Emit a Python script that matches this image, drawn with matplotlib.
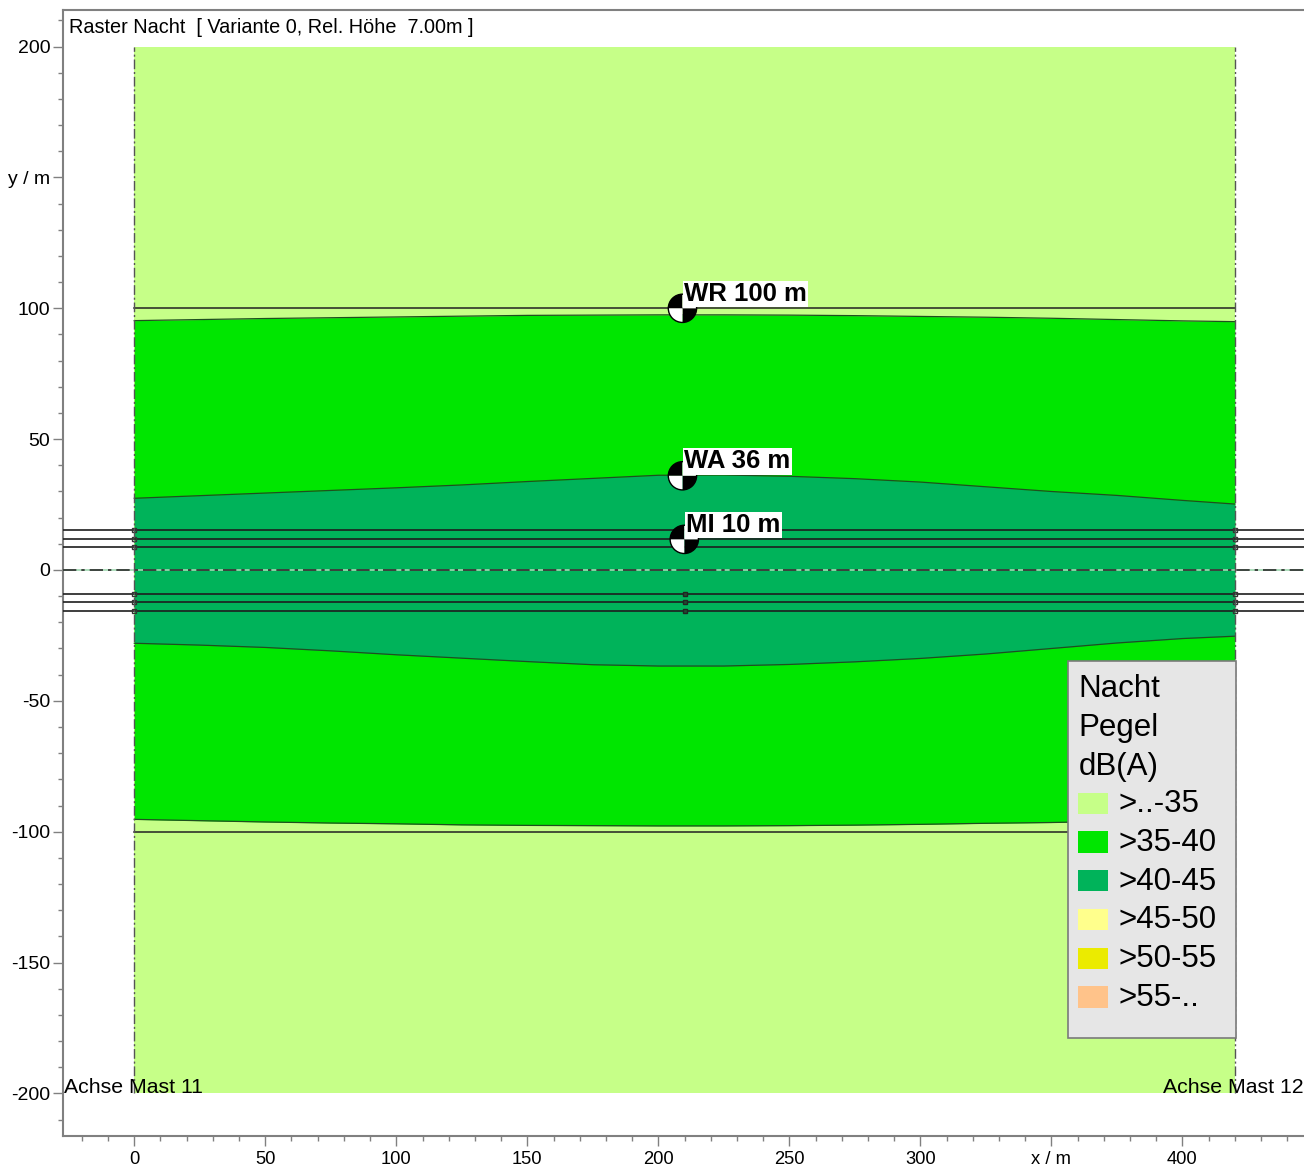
import matplotlib
matplotlib.use("Agg")
import matplotlib.pyplot as plt
from matplotlib.patches import Wedge, Circle, Rectangle

plt.rcParams['font.family'] = ['Liberation Sans', 'DejaVu Sans']

# ---------------- data ----------------
x_pts = [0, 25, 50, 75, 100, 125, 150, 175, 200, 225, 250, 275, 300, 325, 350, 375, 400, 420]
# upper / lower boundary of the >35-40 zone
b35_top = [95.3, 95.7, 96.1, 96.4, 96.7, 97.0, 97.3, 97.4, 97.5, 97.5, 97.4, 97.2, 96.9, 96.6, 96.2, 95.7, 95.2, 94.9]
b35_bot = [-95.3, -95.8, -96.3, -96.7, -97.0, -97.4, -97.6, -97.7, -97.8, -97.8, -97.7, -97.5, -97.2, -96.8, -96.5, -96.0, -95.5, -95.0]
# upper / lower boundary of the >40-45 zone
b40_top = [27.4, 28.4, 29.4, 30.4, 31.4, 32.5, 33.8, 35.0, 36.2, 36.3, 35.8, 34.9, 33.6, 31.8, 30.0, 28.5, 26.6, 25.2]
b40_bot = [-28.0, -28.7, -29.6, -30.9, -32.4, -33.7, -35.0, -36.2, -36.7, -36.7, -36.1, -35.1, -33.8, -32.1, -30.0, -27.9, -26.2, -25.3]

grid_x = [0, 420]
grid_y = [-200, 200]
limit_lines_y = [100, -100]
conductor_y = [15.3, 11.7, 8.6, -9.3, -12.2, -15.7]
mid_x = 210

rec_names = ['WR 100 m', 'WA 36 m', 'MI 10 m']
rec_x = [209.2, 209.2, 209.9]
rec_y = [100.0, 36.0, 11.7]

legend_labels = ['>..-35', '>35-40', '>40-45', '>45-50', '>50-55', '>55-..']
legend_colors = ['#C6FF88', '#00E600', '#00B35A', '#FFFF8C', '#EBEB00', '#FFC38A']
legend_title = ['Nacht', 'Pegel', 'dB(A)']

x_major = [0, 50, 100, 150, 200, 250, 300, 350, 400]
x_labels = ['0', '50', '100', '150', '200', '250', '300', 'x / m', '400']
y_major = [-200, -150, -100, -50, 0, 50, 100, 150, 200]
y_labels = ['-200', '-150', '-100', '-50', '0', '50', '100', 'y / m', '200']

title = 'Raster Nacht  [ Variante 0, Rel. H\u00f6he  7.00m ]'

# ---------------- figure ----------------
W, H = 1304, 1167
fig = plt.figure(figsize=(W / 100, H / 100), dpi=100)
ax = fig.add_axes([63 / W, 1 - 1136 / H, (W - 63) / W, (1136 - 10) / H])
ax.set_xlim(-27.2, 446.4)
ax.set_ylim(-216.3, 214.0)

# background zone
ax.fill_between(grid_x, grid_y[0], grid_y[1], color=legend_colors[0], lw=0, zorder=1)
ax.fill_between(x_pts, b35_bot, b35_top, color=legend_colors[1], lw=0, zorder=2)
ax.fill_between(x_pts, b40_bot, b40_top, color=legend_colors[2], lw=0, zorder=3)
for b in (b35_top, b35_bot, b40_top, b40_bot):
    ax.plot(x_pts, b, color='#1f4f1f', lw=0.9, zorder=4)

# limit lines
for yv in limit_lines_y:
    ax.plot(grid_x, [yv, yv], color='#222222', lw=1.1, zorder=5)

# conductors
xl = ax.get_xlim()
for yv in conductor_y:
    ax.plot(xl, [yv, yv], color='#1e1e1e', lw=1.2, zorder=5)
    ax.plot(grid_x, [yv, yv], ls='none', marker='s', ms=3.5, mfc='none', mec='#333333', mew=1, zorder=5)
for yv in conductor_y[3:]:
    ax.plot([mid_x], [yv], ls='none', marker='s', ms=3.5, mfc='#1e4e30', mec='#222222', mew=1, zorder=5)
# axis centre line
ax.plot(xl, [0, 0], color='#9fd8b0', lw=1.2, zorder=5)
ax.plot(xl, [0, 0], color='#2a2a2a', lw=1.2, ls=(0, (8, 3, 2, 3)), zorder=5)
# mast axes
for xv in grid_x:
    ax.plot([xv, xv], grid_y, color='#555555', lw=1, ls=(0, (7, 2, 1.5, 2)), zorder=5)

# receivers
r = 5.4
for name, rx, ry in zip(rec_names, rec_x, rec_y):
    ax.add_patch(Wedge((rx, ry), r, 90, 180, fc='black', ec='none', zorder=7))
    ax.add_patch(Wedge((rx, ry), r, 270, 360, fc='black', ec='none', zorder=7))
    ax.add_patch(Wedge((rx, ry), r, 0, 90, fc='white', ec='none', zorder=7))
    ax.add_patch(Wedge((rx, ry), r, 180, 270, fc='white', ec='none', zorder=7))
    ax.add_patch(Circle((rx, ry), r, fc='none', ec='black', lw=1, zorder=7))
    ax.annotate(name, (rx, ry), xytext=(1.2, 1.8), textcoords='offset points',
                ha='left', va='bottom', fontsize=18.5, fontweight='bold', color='black',
                bbox=dict(boxstyle='square,pad=0.05', fc='white', ec='none'), zorder=8)

# ticks
ax.set_xticks(x_major)
ax.set_xticklabels(x_labels)
ax.set_xticks(list(range(-20, 450, 10)), minor=True)
ax.set_yticks(y_major)
ax.set_yticklabels(y_labels)
ax.set_yticks(list(range(-210, 215, 10)), minor=True)
ax.tick_params(which='major', length=7.2, width=1, color='#808080', pad=2, labelcolor='black')
ax.tick_params(axis='x', which='major', labelsize=13.2, pad=3.5)
ax.tick_params(axis='y', which='major', labelsize=14)
ax.tick_params(which='minor', length=3.6, width=1, color='#808080')
for s in ('left', 'top', 'bottom'):
    ax.spines[s].set_color('#808080')
    ax.spines[s].set_linewidth(1.5)
ax.spines['right'].set_visible(False)

# texts
fig.text(69 / W, 1 - 33 / H, title, fontsize=14.3, ha='left', va='baseline')
ax.text(0.001, -200, 'Achse Mast 11', transform=ax.get_yaxis_transform(), fontsize=15.3,
        ha='left', va='baseline', zorder=9)
ax.text(0.9995, -200, 'Achse Mast 12', transform=ax.get_yaxis_transform(), fontsize=15.3,
        ha='right', va='baseline', zorder=9)

# legend (drawn in pixel coordinates of an overlay)
lg = fig.add_axes([0, 0, 1, 1], zorder=10)
lg.set_xlim(0, W)
lg.set_ylim(H, 0)
lg.axis('off')
lg.patch.set_alpha(0)
lg.add_patch(Rectangle((1067.5, 661), 168.5, 377, fc='#E6E6E6', ec='#7a7a7a', lw=1.2))
for i, t in enumerate(legend_title):
    lg.text(1078.3, 696.7 + 39.2 * i, t, fontsize=22.5, ha='left', va='baseline')
for i, (lab, col) in enumerate(zip(legend_labels, legend_colors)):
    y0 = 792.7 + 38.7 * i
    lg.add_patch(Rectangle((1078.3, y0), 29.4, 21.3, fc=col, ec='none'))
    lg.text(1118.3, y0 + 19.5, lab, fontsize=22.5, ha='left', va='baseline')

fig.savefig('out.png', dpi=100)
